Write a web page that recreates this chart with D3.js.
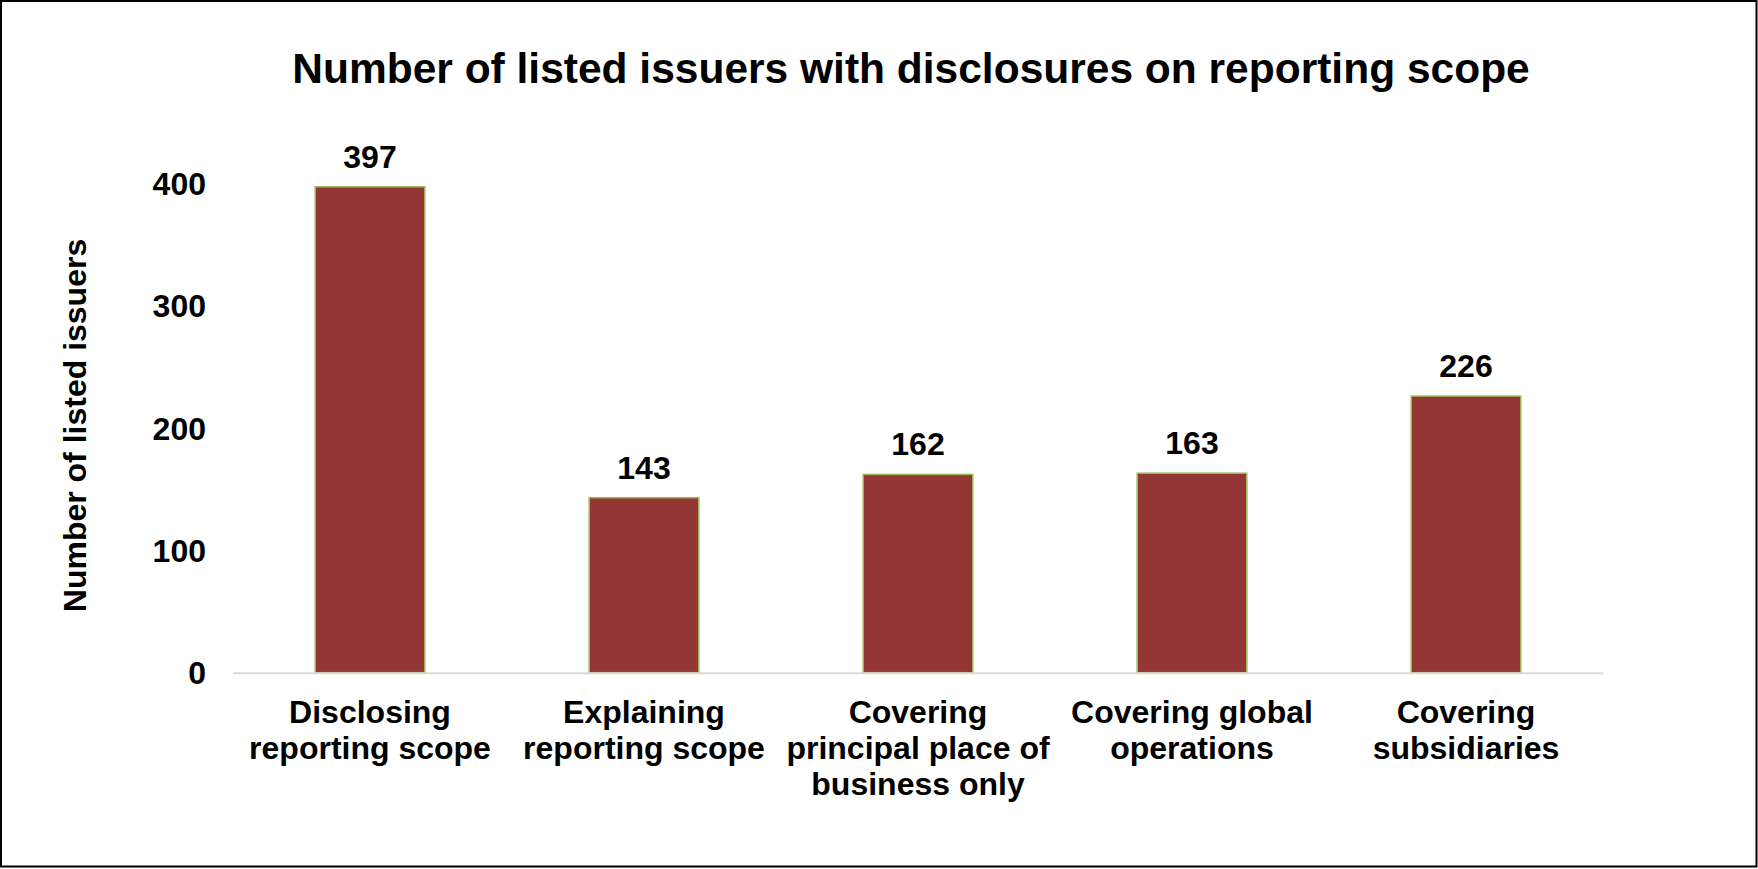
<!DOCTYPE html>
<html>
<head>
<meta charset="utf-8">
<script src="https://cdn.jsdelivr.net/npm/d3@7"></script>
<style>
  html, body { margin: 0; padding: 0; background: #fff; }
  svg { display: block; }
  text { font-family: "Liberation Sans", Arial, sans-serif; font-weight: bold; fill: #000; }
</style>
</head>
<body>
<svg id="chart" width="1758" height="869"></svg>
<script>
// Chart data
const categories = [
  ["Disclosing", "reporting scope"],
  ["Explaining", "reporting scope"],
  ["Covering", "principal place of", "business only"],
  ["Covering global", "operations"],
  ["Covering", "subsidiaries"]
];
const values = [397, 143, 162, 163, 226];
const yTicks = [0, 100, 200, 300, 400];
const chartTitle = "Number of listed issuers with disclosures on reporting scope";
const yAxisTitle = "Number of listed issuers";

const W = 1758, H = 869;
const svg = d3.select("#chart");

// Outer frame
svg.append("rect")
  .attr("x", 1).attr("y", 1)
  .attr("width", W - 2.5).attr("height", H - 3.5)
  .attr("fill", "#fff")
  .attr("stroke", "#000")
  .attr("stroke-width", 2);

const plot = { left: 233, right: 1603, top: 183.1, bottom: 672.7 };

const keys = categories.map((c, i) => i);
const x = d3.scaleBand()
  .domain(keys)
  .range([plot.left, plot.right])
  .paddingInner(0.6)
  .paddingOuter(0.3);

const y = d3.scaleLinear()
  .domain([0, 400])
  .range([plot.bottom, plot.top]);

// Title
svg.append("text")
  .attr("x", 911).attr("y", 83)
  .attr("text-anchor", "middle")
  .style("font-size", "42.5px")
  .text(chartTitle);

// Y axis title
svg.append("text")
  .attr("transform", "translate(86,425.5) rotate(-90)")
  .attr("text-anchor", "middle")
  .style("font-size", "32px")
  .text(yAxisTitle);

// Y axis tick labels (no axis line)
const yAxis = d3.axisLeft(y).tickValues(yTicks).tickSize(0).tickPadding(0);
const yg = svg.append("g")
  .attr("transform", `translate(206,0)`)
  .call(yAxis);
yg.select(".domain").remove();
yg.selectAll("text")
  .attr("x", 0)
  .attr("dy", "0.35em")
  .style("font-size", "32px")
  .style("font-family", "'Liberation Sans', Arial, sans-serif")
  .style("font-weight", "bold")
  .attr("fill", "#000");

// Bars
svg.append("g").selectAll("rect")
  .data(values)
  .join("rect")
  .attr("x", (d, i) => x(i))
  .attr("y", d => y(d))
  .attr("width", x.bandwidth())
  .attr("height", d => y(0) - y(d))
  .attr("fill", "#943634")
  .attr("stroke", "#9bbb59")
  .attr("stroke-width", 1.5);

// Baseline
const xAxis = d3.axisBottom(x).tickSize(0).tickFormat("");
const xg = svg.append("g")
  .attr("transform", `translate(0,${y(0)})`)
  .call(xAxis);
xg.select(".domain")
  .attr("stroke", "#d9d9d9")
  .attr("stroke-width", 2);

// Value labels
svg.append("g").selectAll("text")
  .data(values)
  .join("text")
  .attr("x", (d, i) => x(i) + x.bandwidth() / 2)
  .attr("y", d => y(d) - 19)
  .attr("text-anchor", "middle")
  .style("font-size", "32px")
  .text(d => d);

// Category labels
const catG = svg.append("g").selectAll("text")
  .data(categories)
  .join("text")
  .attr("text-anchor", "middle")
  .style("font-size", "32px");
catG.each(function (lines, i) {
  const t = d3.select(this);
  lines.forEach((line, j) => {
    t.append("tspan")
      .attr("x", x(i) + x.bandwidth() / 2)
      .attr("y", 723 + j * 36)
      .text(line);
  });
});
</script>
</body>
</html>
